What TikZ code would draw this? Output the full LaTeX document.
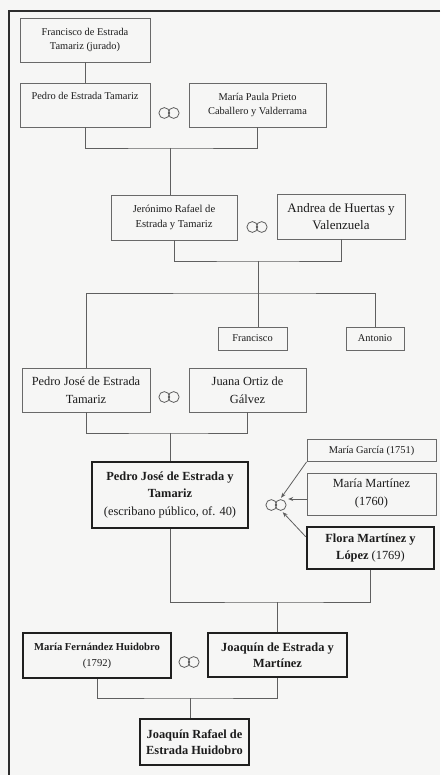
\documentclass[tikz,border=0pt]{standalone}
\usepackage{fontspec}
\setmainfont{Liberation Serif}
\usetikzlibrary{arrows.meta,calc}
\definecolor{paper}{RGB}{246,246,245}
\definecolor{ink}{RGB}{28,28,28}
\definecolor{boxc}{RGB}{105,105,105}
\definecolor{linec}{RGB}{95,95,95}
\definecolor{framec}{RGB}{45,45,45}
\begin{document}
\begin{tikzpicture}[x=1pt,y=-1pt,
  box/.style={draw=boxc, line width=0.9pt, align=center, inner sep=0pt, text=ink},
  thickbox/.style={box, draw=black!88, line width=2.6pt},
  sm/.style={font=\fontsize{10.4}{14}\selectfont},
  bg/.style={font=\fontsize{12.4}{18}\selectfont},
  ln/.style={draw=linec, line width=0.8pt},
  arr/.style={draw=linec, line width=0.8pt, -{Stealth[length=5pt,width=4pt]}},
  marr/.style={minimum width=24pt, minimum height=14pt, inner sep=0pt,
    path picture={\draw[draw=linec, line width=0.8pt]
      ($(path picture bounding box.center)+(-4.7pt,0pt)$) circle[radius=5.4pt]
      ($(path picture bounding box.center)+(4.7pt,0pt)$) circle[radius=5.4pt];}}
]
\fill[paper] (0,0) rectangle (440,775);
\useasboundingbox (0,0) rectangle (440,775);
\draw[draw=framec, line width=1.8pt] (440,11) -- (9,11) -- (9,775);

% generation 1
\node[box, sm, minimum width=130pt, minimum height=44pt] (b1) at (85,40)
  {Francisco de Estrada\\Tamariz (jurado)};
\node[box, sm, minimum width=130pt, minimum height=44pt] (b2) at (85,105)
  {Pedro de Estrada Tamariz\\\strut};
\node[box, sm, minimum width=137pt, minimum height=44pt] (b3) at (257.5,105)
  {María Paula Prieto\\Caballero y Valderrama};
\node[marr] (m1) at (169,113) {};

% generation 2
\node[box, font=\fontsize{10.6}{15}\selectfont, minimum width=126pt, minimum height=45pt] (b4) at (174,217.5)
  {Jerónimo Rafael de\\Estrada y Tamariz};
\node[box, font=\fontsize{13}{17}\selectfont, minimum width=128pt, minimum height=45pt] (b5) at (341,216.5)
  {Andrea de Huertas y\\Valenzuela};
\node[marr] (m2) at (257,227) {};

% children
\node[box, sm, minimum width=69pt, minimum height=23pt] (fr) at (252.5,338.5) {Francisco};
\node[box, sm, minimum width=58pt, minimum height=23pt] (an) at (375,338.5) {Antonio};
\node[box, bg, minimum width=128pt, minimum height=44pt] (pj) at (86,390)
  {Pedro José de Estrada\\Tamariz};
\node[box, bg, minimum width=117pt, minimum height=44pt] (ju) at (247.5,390)
  {Juana Ortiz de\\Gálvez};
\node[marr] (m3) at (169,397) {};

% escribano
\node[thickbox, font=\fontsize{12.4}{17.5}\selectfont, minimum width=156pt, minimum height=66pt] (bb) at (170,495)
  {\textbf{Pedro José de Estrada y}\\\textbf{Tamariz}\\(escribano público, of. 40)};
\node[box, sm, minimum width=129pt, minimum height=22pt] (mg) at (371.5,450.5) {María García (1751)};
\node[box, bg, minimum width=129pt, minimum height=42pt] (mm) at (371.5,494) {María Martínez\\(1760)};
\node[thickbox, font=\fontsize{12.4}{17}\selectfont, minimum width=127pt, minimum height=42pt] (fl) at (370.5,548)
  {\textbf{Flora Martínez y}\\\textbf{López} (1769)};
\node[marr] (m4) at (276,505) {};

% next generation
\node[thickbox, font=\fontsize{10.6}{16}\selectfont, minimum width=148pt, minimum height=45pt] (mf) at (97,655.5)
  {\textbf{María Fernández Huidobro}\\(1792)};
\node[thickbox, font=\fontsize{12.4}{16}\selectfont, minimum width=139pt, minimum height=44pt] (jq) at (277.5,655)
  {\textbf{Joaquín de Estrada y}\\\textbf{Martínez}};
\node[marr] (m5) at (189,662) {};
\node[thickbox, font=\fontsize{12.4}{16}\selectfont, minimum width=109pt, minimum height=46pt] (jr) at (194.5,742)
  {\textbf{Joaquín Rafael de}\\\textbf{Estrada Huidobro}};

% connectors
\coordinate (j1) at (170,148);
\coordinate (j2) at (258,261);
\coordinate (j3) at (258,293);
\coordinate (j4) at (170,433);
\coordinate (j5) at (277.5,602);
\coordinate (j6) at (190,698);

\draw[ln] (b1.south) -- (b2.north);
\draw[ln] (b2.south) |- (j1) -| (b3.south);
\draw[ln] (j1) -- (j1 |- b4.north);
\draw[ln] (b4.south) |- (j2) -| (b5.south);
\draw[ln] (j2) -- (j3);
\draw[ln] (pj.north) |- (j3) -| (an.north);
\draw[ln] (j3) -- (j3 |- fr.north);
\draw[ln] (pj.south) |- (j4) -| (ju.south);
\draw[ln] (j4) -- (bb.north);
\draw[ln] (bb.south) |- (j5) -| (fl.south);
\draw[ln] (j5) -- (j5 |- jq.north);
\draw[ln] (mf.south) |- (j6) -| (jq.south);
\draw[ln] (j6) -- (j6 |- jr.north);

\coordinate (a2) at ([yshift=-5pt]mm.west);
\coordinate (a3) at ([yshift=-11pt]fl.north west);
\draw[arr] (mg.south west) -- (m4);
\draw[arr] (a2) -- (m4.east |- a2);
\draw[arr] (a3) -- (m4);
\end{tikzpicture}
\end{document}
